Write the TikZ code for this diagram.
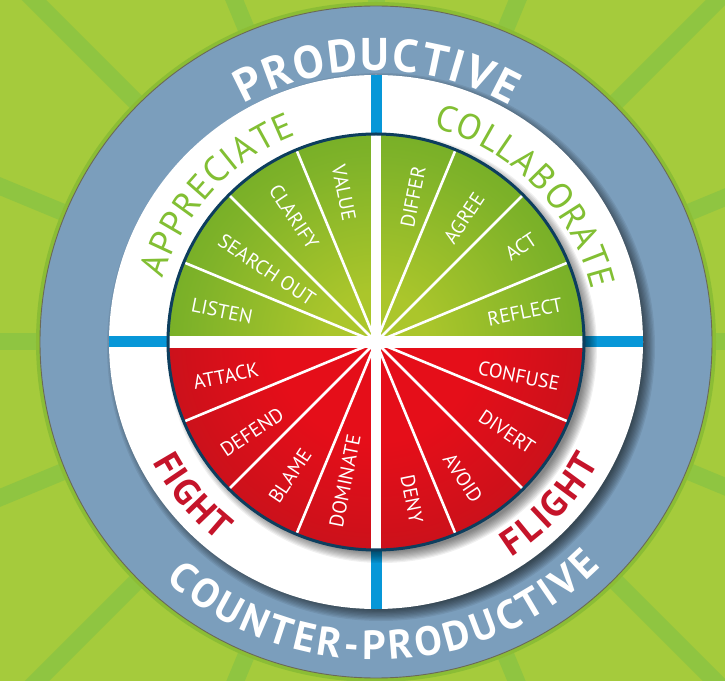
\documentclass[tikz,border=0pt]{standalone}
\usepackage{fontspec}
\setmainfont{PT Sans}
\usetikzlibrary{decorations.text}
\definecolor{bggreen}{HTML}{A5CB3C}
\definecolor{raygreen}{HTML}{8FC541}
\definecolor{halo}{HTML}{8BBD35}
\definecolor{ringgrey}{HTML}{7B9EBC}
\definecolor{rimline}{HTML}{6B6A55}
\definecolor{barblue}{HTML}{0797D8}
\definecolor{navy}{HTML}{0D3E5E}
\definecolor{gIn}{HTML}{ABC62B}
\definecolor{gOut}{HTML}{62A627}
\definecolor{rIn}{HTML}{E50E19}
\definecolor{rOut}{HTML}{A8151D}
\definecolor{txtgreen}{HTML}{82BF33}
\definecolor{txtred}{HTML}{C5142A}
\pgfdeclareradialshading{greenpie}{\pgfpoint{0bp}{0bp}}{color(0bp)=(gIn); color(6bp)=(gIn); color(22bp)=(gIn!40!gOut); color(35bp)=(gOut); color(50bp)=(gOut!92!black); color(80bp)=(gOut!92!black)}
\pgfdeclareradialshading{redpie}{\pgfpoint{0bp}{0bp}}{color(0bp)=(rIn); color(12bp)=(rIn); color(32bp)=(rIn!35!rOut); color(50bp)=(rOut); color(80bp)=(rOut)}
\begin{document}
\begin{tikzpicture}[x=1bp,y=1bp,
  lbl/.style={text=white, font=\fontsize{20}{24}\selectfont, inner sep=0pt},
  divider/.style={white, line width=2.6bp},
  ray/.style={raygreen, line width=17bp},
  bar/.style={fill=barblue},
]
\useasboundingbox (-376,-339) rectangle (349,342);
\clip (-376,-339) rectangle (349,342);
\fill[bggreen] (-376,-339) rectangle (349,342);
\foreach \a in {0,22.5,...,337.5} \draw[ray] (0,0) -- (\a:700);
\fill[halo] (0,0) circle (340);
\fill[ringgrey] (0,0) circle (336);
\draw[rimline, line width=0.9bp] (0,0) circle (336);
% shadow of white disc
\foreach \i in {0,...,9} \fill[black,opacity=0.07] (5,-5) circle ({274-1.3*\i});
\fill[white] (0,0) circle (267);
% blue bars
\fill[bar] (-267,-5.5) rectangle (-200,5.5);
\fill[bar] (200,-5.5) rectangle (267,5.5);
\fill[bar] (-5.5,200) rectangle (5.5,267);
\fill[bar] (-5.5,-200) rectangle (5.5,-267);
% shadow of pie
\foreach \i in {0,...,9} \fill[black,opacity=0.06] (6,-6) circle ({215-1.2*\i});
% pie halves
\begin{scope}
  \clip (-210,0) rectangle (210,210);
  \shade[shading=greenpie] (0,0) circle (208);
\end{scope}
\begin{scope}
  \clip (-210,0) rectangle (210,-210);
  \shade[shading=redpie] (0,0) circle (208);
\end{scope}
\begin{scope}
  \clip (0,0) circle (208);
  \foreach \a in {22.5,45,67.5,112.5,135,157.5,202.5,225,247.5,292.5,315,337.5}
    \draw[divider] (0,0) -- (\a:210);
  \fill[white] (-210,-6) rectangle (210,6);
  \fill[white] (-5,-210) rectangle (5,210);
\end{scope}
\draw[navy, line width=3bp] (0,0) circle (208);
% wedge labels
\node[lbl, rotate=-11.25] (listen) at (-154,31) {LISTEN};
\node[lbl, rotate=-33.75] (search) at (-109,72) {SEARCH OUT};
\node[lbl, rotate=-56.25] (clarify) at (-82,125) {CLARIFY};
\node[lbl, rotate=-78.75] (value) at (-32,149) {VALUE};
\node[lbl, rotate=78.75] (differ) at (37,145) {DIFFER};
\node[lbl, rotate=56.25] (agree) at (88,124) {AGREE};
\node[lbl, rotate=33.75] (act) at (145,95) {ACT};
\node[lbl, rotate=11.25] (reflect) at (149,30) {REFLECT};
\node[lbl, rotate=11.25] (attack) at (-150,-34) {ATTACK};
\node[lbl, rotate=33.75] (defend) at (-124,-90) {DEFEND};
\node[lbl, rotate=56.25] (blame) at (-86,-134) {BLAME};
\node[lbl, rotate=78.75] (dominate) at (-31,-139) {DOMINATE};
\node[lbl, rotate=-11.25] (confuse) at (143,-34) {CONFUSE};
\node[lbl, rotate=-33.75] (divert) at (131,-90) {DIVERT};
\node[lbl, rotate=-56.25] (avoid) at (87,-136) {AVOID};
\node[lbl, rotate=-78.75] (deny) at (36,-157) {DENY};
% curved texts
\path[decorate, decoration={text along path, text align={fit to path}, text color=white,
  text={|\fontsize{46}{52}\selectfont\bfseries|PRODUCTIVE}}]
  (119:272) arc[start angle=119, end angle=60.5, radius=272];
\path[decorate, decoration={text along path, text align={fit to path}, text color=white,
  text={|\fontsize{41}{48}\selectfont\bfseries|COUNTER-PRODUCTIVE}}]
  (228.6:318) arc[start angle=228.6, end angle=315, radius=318];
\path[decorate, decoration={text along path, text align={fit to path}, text color=txtgreen,
  text={|\fontsize{36}{42}\selectfont|APPRECIATE}}]
  (163.5:222) arc[start angle=163.5, end angle=111, radius=222];
\path[decorate, decoration={text along path, text align={fit to path}, text color=txtgreen,
  text={|\fontsize{36}{42}\selectfont|COLLABORATE}}]
  (75:222) arc[start angle=75, end angle=13.5, radius=222];
\path[decorate, decoration={text along path, text align={fit to path}, text color=txtred,
  text={|\fontsize{37}{42}\selectfont\bfseries|FIGHT}}]
  (208.3:254) arc[start angle=208.3, end angle=231.6, radius=254];
\path[decorate, decoration={text along path, text align={fit to path}, text color=txtred,
  text={|\fontsize{37}{42}\selectfont\bfseries|FLIGHT}}]
  (-57.8:254) arc[start angle=-57.8, end angle=-28.4, radius=254];
\end{tikzpicture}
\end{document}
